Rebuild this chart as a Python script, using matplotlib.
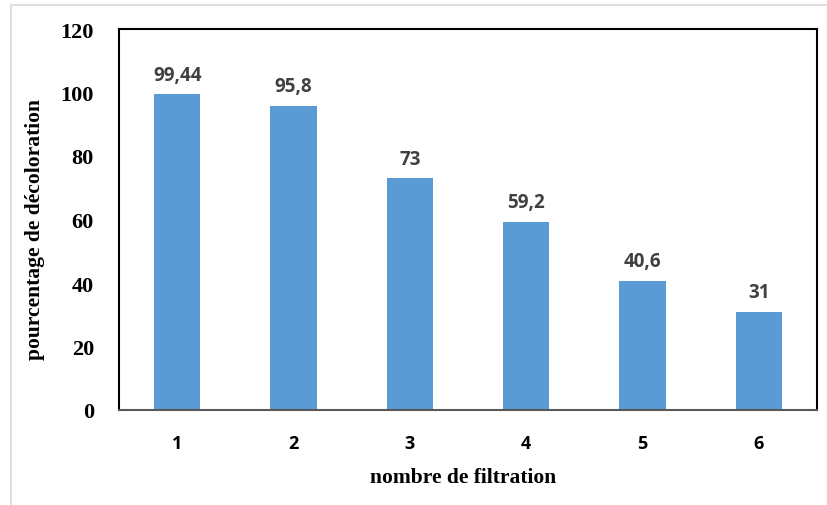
import matplotlib.pyplot as plt
from matplotlib.patches import Rectangle

filtrations = [1, 2, 3, 4, 5, 6]
decoloration = [99.44, 95.8, 73, 59.2, 40.6, 31]
value_labels = ["99,44", "95,8", "73", "59,2", "40,6", "31"]
y_ticks = [0, 20, 40, 60, 80, 100, 120]

W, H = 828, 506
fig = plt.figure(figsize=(W / 100, H / 100), dpi=100)

# light grey chart border (right/bottom run off the canvas)
fig.patches.append(Rectangle((11 / W, -0.05), 1.0, 1 - 6 / H + 0.05,
                             transform=fig.transFigure, fill=False,
                             edgecolor="#d9d9d9", linewidth=1.2))

ax = fig.add_axes([119 / W, 1 - 411 / H, (817 - 119) / W, (411 - 30) / H])
ax.bar(filtrations, decoloration, width=0.4, color="#5b9bd5", zorder=2)

for x, v, s in zip(filtrations, decoloration, value_labels):
    ax.annotate(s, (x, v), xytext=(0, 7), textcoords="offset points",
                ha="center", va="bottom", fontsize=13.5, fontweight="bold",
                color="#404040", family="Open Sans")

ax.set_xlim(0.5, 6.5)
ax.set_ylim(0, 120)
ax.set_yticks(y_ticks)
ax.set_xticks(filtrations)
ax.tick_params(length=0)
ax.tick_params(axis="x", pad=17)
ax.tick_params(axis="y", pad=18)
for lab in ax.get_yticklabels():
    lab.set_fontfamily("Liberation Serif")
    lab.set_fontweight("bold")
    lab.set_fontsize(16)
for lab in ax.get_xticklabels():
    lab.set_fontfamily("Open Sans")
    lab.set_fontweight("bold")
    lab.set_fontsize(13)

for side in ["top", "left", "right"]:
    ax.spines[side].set_color("black")
    ax.spines[side].set_linewidth(1.5)
ax.spines["bottom"].set_color("#595959")
ax.spines["bottom"].set_linewidth(1.5)

ax.set_xlabel("nombre de filtration", fontfamily="Liberation Serif",
              fontweight="bold", fontsize=15.5, va="center")
ax.set_ylabel("pourcentage de décoloration", fontfamily="Liberation Serif",
              fontweight="bold", fontsize=15.5, va="center")
ax.xaxis.set_label_coords((463 - 119) / 698, (411 - 478) / 381)
ax.yaxis.set_label_coords((35 - 119) / 698, (411 - 230) / 381)

fig.savefig("out.png", dpi=100)
